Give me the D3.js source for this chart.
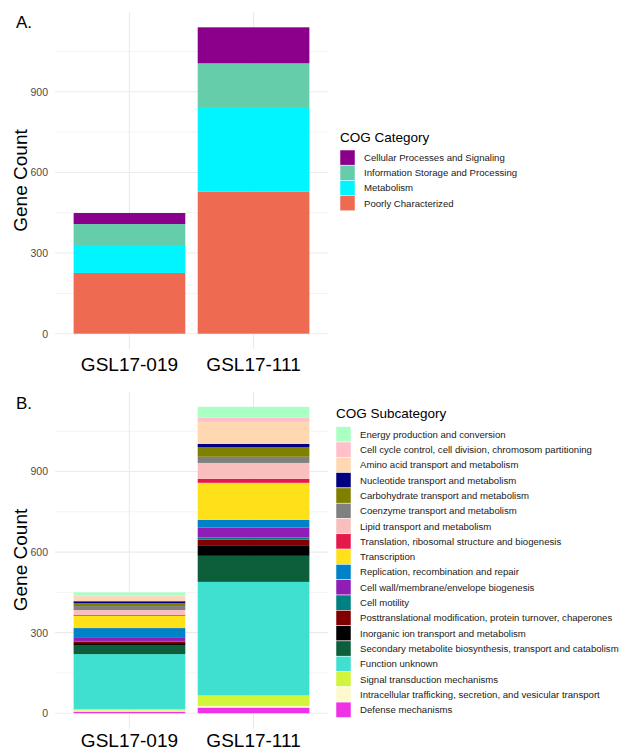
<!DOCTYPE html>
<html>
<head>
<meta charset="utf-8">
<script src="https://cdn.jsdelivr.net/npm/d3@7"></script>
<style>
  html, body { margin: 0; padding: 0; background: #fff; }
  svg { display: block; font-family: "Liberation Sans", Arial, Helvetica, sans-serif; }
</style>
</head>
<body>
<svg id="chart" width="622" height="747"></svg>
<script>
// ---------------- DATA ----------------
const samples = ["GSL17-019", "GSL17-111"];

// Panel A: COG categories (legend order, top of stack first)
const cogCategories = [
  "Cellular Processes and Signaling",
  "Information Storage and Processing",
  "Metabolism",
  "Poorly Characterized"
];
const categoryColors = ["#8B008B", "#66CDAA", "#00F5FF", "#EE6A50"];
const categoryCounts019 = [41, 78, 104, 226];
const categoryCounts111 = [134, 166, 312, 528];

// Panel B: COG subcategories (legend order, top of stack first)
const cogSubcategories = [
  "Energy production and conversion",
  "Cell cycle control, cell division, chromosom partitioning",
  "Amino acid transport and metabolism",
  "Nucleotide transport and metabolism",
  "Carbohydrate transport and metabolism",
  "Coenzyme transport and metabolism",
  "Lipid transport and metabolism",
  "Translation, ribosomal structure and biogenesis",
  "Transcription",
  "Replication, recombination and repair",
  "Cell wall/membrane/envelope biogenesis",
  "Cell motility",
  "Posttranslational modification, protein turnover, chaperones",
  "Inorganic ion transport and metabolism",
  "Secondary metabolite biosynthesis, transport and catabolism",
  "Function unknown",
  "Signal transduction mechanisms",
  "Intracellular trafficking, secretion, and vesicular transport",
  "Defense mechanisms"
];
const subcategoryColors = [
  "#AAFFC3", "#FFC0CB", "#FFD8B1", "#000080", "#808000", "#808080",
  "#FABEBE", "#E6194B", "#FFE119", "#0082C8", "#911EB4", "#008080",
  "#800000", "#000000", "#0D5E3B", "#40E0D0", "#D2F53C", "#FFFACD", "#F032E6"
];
const subcategoryCounts019 = [12, 3, 18, 7, 11, 15, 19, 3, 45, 34, 14, 2, 6, 7, 34, 205, 5, 4, 6];
const subcategoryCounts111 = [41, 15, 82, 12, 36, 23, 59, 15, 138, 29, 37, 8, 23, 37, 97, 423, 39, 6, 21];

const yTicks = [0, 300, 600, 900];
const yMinorTicks = [150, 450, 750, 1050];

// ---------------- DRAW ----------------
const svg = d3.select("#chart");

function panel(opts) {
  const { top, bottom, left, right, keys, colors, rows, tag, tagY, legendTitle, legendX, legendTitleY, legendKeyTop, keyH, xLabelY } = opts;
  const g = svg.append("g");

  const table = samples.map((s, i) => {
    const o = { sample: s };
    keys.forEach((k, j) => { o[k] = rows[i][j]; });
    return o;
  });
  const stackKeys = keys.slice().reverse(); // bottom of stack first
  const series = d3.stack().keys(stackKeys)(table);
  const maxTotal = d3.max(series[series.length - 1], d => d[1]);
  const pad = maxTotal * 0.05;

  const y = d3.scaleLinear().domain([-pad, maxTotal + pad]).range([bottom, top]);
  const x = d3.scaleBand().domain(samples).range([left, right]).paddingInner(0.1).paddingOuter(0.15);

  // grid
  g.selectAll(".minor").data(yMinorTicks.filter(v => v < maxTotal + pad)).join("line")
    .attr("x1", left).attr("x2", right)
    .attr("y1", d => y(d)).attr("y2", d => y(d))
    .attr("stroke", "#EBEBEB").attr("stroke-width", 0.6);
  g.selectAll(".major").data(yTicks).join("line")
    .attr("x1", left).attr("x2", right)
    .attr("y1", d => y(d)).attr("y2", d => y(d))
    .attr("stroke", "#EBEBEB").attr("stroke-width", 1.1);
  g.selectAll(".vgrid").data(samples).join("line")
    .attr("x1", d => x(d) + x.bandwidth() / 2).attr("x2", d => x(d) + x.bandwidth() / 2)
    .attr("y1", top).attr("y2", bottom)
    .attr("stroke", "#EBEBEB").attr("stroke-width", 1.1);

  // bars
  series.forEach(s => {
    const col = colors[keys.indexOf(s.key)];
    g.append("g").selectAll("rect").data(s).join("rect")
      .attr("x", d => x(d.data.sample))
      .attr("width", x.bandwidth())
      .attr("y", d => y(d[1]))
      .attr("height", d => Math.max(0, y(d[0]) - y(d[1])))
      .attr("fill", col);
  });

  // y axis
  const yAxis = d3.axisLeft(y).tickValues(yTicks).tickSize(0).tickPadding(7);
  const ya = g.append("g").attr("transform", `translate(${left},0)`).call(yAxis);
  ya.select(".domain").remove();
  ya.selectAll("text").attr("fill", "#4D4D4D").style("font-size", "10.5px").attr("font-family", null);

  // x axis
  const xAxis = d3.axisBottom(x).tickSize(0).tickPadding(0);
  const xa = g.append("g").attr("transform", `translate(0,${xLabelY})`).call(xAxis);
  xa.select(".domain").remove();
  xa.selectAll("text").attr("fill", "#000").attr("dy", null).attr("y", 0)
    .style("font-size", "19px").attr("font-family", null);

  // y title
  g.append("text")
    .attr("transform", `translate(27,${(top + bottom) / 2}) rotate(-90)`)
    .attr("text-anchor", "middle")
    .style("font-size", "19px")
    .attr("fill", "#000")
    .text("Gene Count");

  // tag
  g.append("text").attr("x", 16).attr("y", tagY).style("font-size", "17px").attr("fill", "#000").text(tag);

  // legend
  g.append("text").attr("x", legendX).attr("y", legendTitleY).style("font-size", "13.5px").attr("fill", "#000").text(legendTitle);
  keys.forEach((k, i) => {
    g.append("rect")
      .attr("x", legendX).attr("y", legendKeyTop + i * keyH)
      .attr("width", 15).attr("height", keyH)
      .attr("fill", colors[i]).attr("stroke", "#fff").attr("stroke-width", 0.5);
    g.append("text")
      .attr("x", legendX + 24).attr("y", legendKeyTop + i * keyH + keyH / 2)
      .attr("dy", "0.35em")
      .style("font-size", "9.6px").attr("fill", "#1a1a1a")
      .text(k);
  });
}

panel({
  top: 12, bottom: 349, left: 55, right: 328,
  keys: cogCategories, colors: categoryColors,
  rows: [categoryCounts019, categoryCounts111],
  tag: "A.", tagY: 28,
  legendTitle: "COG Category", legendX: 340, legendTitleY: 142, legendKeyTop: 150, keyH: 15.2,
  xLabelY: 371
});

panel({
  top: 391.5, bottom: 728.5, left: 55, right: 328,
  keys: cogSubcategories, colors: subcategoryColors,
  rows: [subcategoryCounts019, subcategoryCounts111],
  tag: "B.", tagY: 409,
  legendTitle: "COG Subcategory", legendX: 336, legendTitleY: 418, legendKeyTop: 426.7, keyH: 15.3,
  xLabelY: 747
});
</script>
</body>
</html>
